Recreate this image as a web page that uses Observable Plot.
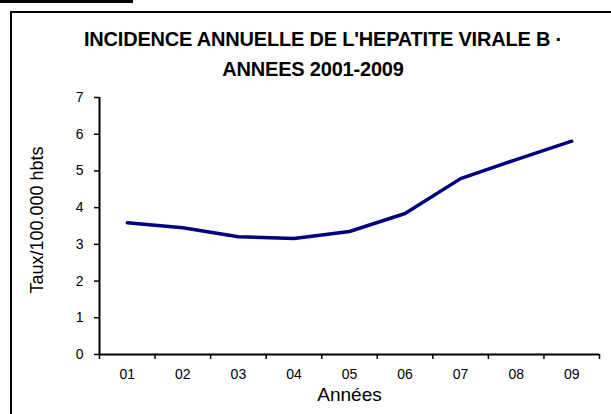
<!DOCTYPE html>
<html>
<head>
<meta charset="utf-8">
<script src="https://cdn.jsdelivr.net/npm/d3@7"></script>
<script src="https://cdn.jsdelivr.net/npm/@observablehq/plot@0.6"></script>
<style>
  html, body { margin: 0; padding: 0; background: #fff; }
  #wrap { position: relative; width: 611px; height: 414px; overflow: hidden; font-family: "Liberation Sans", Arial, sans-serif; }
  #bar { position: absolute; left: 0; top: 0; width: 133px; height: 3px; background: #000; }
  #frame { position: absolute; left: 10px; top: 11px; width: 700px; height: 500px; border-left: 2px solid #000; border-top: 2px solid #000; }
  .title { position: absolute; width: 600px; text-align: center; font-weight: bold; font-size: 20px; line-height: 24px; letter-spacing: -0.2px; color: #000; white-space: nowrap; }
  #chart { position: absolute; left: 0; top: 0; }
</style>
</head>
<body>
<div id="wrap">
  <div id="bar"></div>
  <div id="frame"></div>
  <div class="title" style="top:27px; left:23px">INCIDENCE ANNUELLE DE L'HEPATITE VIRALE B ·</div>
  <div class="title" style="top:57px; left:13px">ANNEES 2001-2009</div>
  <div id="chart"></div>
</div>
<script>
const years = [2001, 2002, 2003, 2004, 2005, 2006, 2007, 2008, 2009];
const rates = [3.59, 3.45, 3.21, 3.16, 3.35, 3.84, 4.79, 5.31, 5.81];
const yTicks = [0, 1, 2, 3, 4, 5, 6, 7];
const yLabel = "Taux/100.000 hbts";
const xLabel = "Années";

const data = years.map((y, i) => ({year: y, rate: rates[i]}));
const bounds = years.map(y => y - 0.5).concat([years[years.length - 1] + 0.5]);

const chart = Plot.plot({
  width: 611,
  height: 414,
  marginLeft: 99,
  marginRight: 12,
  marginTop: 97,
  marginBottom: 60,
  style: {fontFamily: "'Liberation Sans', Arial, sans-serif", fontSize: "14px", background: "transparent", color: "#000"},
  x: {domain: [bounds[0], bounds[bounds.length - 1]]},
  y: {domain: [0, 7]},
  marks: [
    Plot.axisY({ticks: yTicks, tickSize: 5, tickPadding: 11, tickFormat: d3.format("d"), label: null, fontSize: 14, strokeWidth: 1.5}),
    Plot.axisX({ticks: bounds, tickSize: 5, tickFormat: () => "", label: null, strokeWidth: 1.5}),
    Plot.axisX({ticks: years, tickSize: 0, tickPadding: 15, tickFormat: d => String(d).slice(2), label: null, fontSize: 14}),
    Plot.ruleX([bounds[0]], {stroke: "#000", strokeWidth: 2}),
    Plot.ruleY([0], {stroke: "#000", strokeWidth: 2}),
    Plot.line(data, {x: "year", y: "rate", stroke: "#000080", strokeWidth: 3.5}),
    Plot.text([xLabel], {frameAnchor: "bottom", dy: 40, fontSize: 19, lineAnchor: "middle", fill: "#000"}),
    Plot.text([yLabel], {frameAnchor: "left", dx: -62, dy: -6, rotate: -90, textAnchor: "middle", lineAnchor: "middle", fontSize: 18, fill: "#000"})
  ]
});
document.getElementById("chart").appendChild(chart);
</script>
</body>
</html>
